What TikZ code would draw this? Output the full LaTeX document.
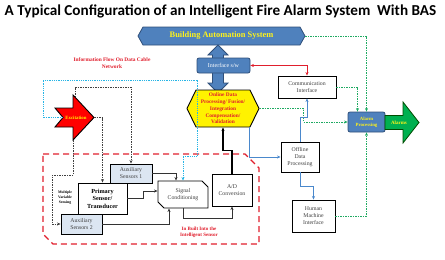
\documentclass[tikz,border=0pt]{standalone}
\usepackage{fontspec}
\setmainfont{Liberation Serif}
\newfontfamily\titlefont{Carlito}
\usetikzlibrary{shapes.symbols,shapes.misc,arrows.meta}

\definecolor{basblue}{HTML}{4F81BD}
\definecolor{basedge}{HTML}{2F4F7A}
\definecolor{auxfill}{HTML}{DCE6F2}
\definecolor{flowred}{HTML}{E01F2D}
\definecolor{linkgreen}{HTML}{1FAA62}
\definecolor{linkcyan}{HTML}{27B5E6}
\definecolor{linkblue}{HTML}{4A88CC}
\definecolor{alarmgreen}{HTML}{00B050}
\definecolor{boxtext}{HTML}{404040}

\begin{document}
\begin{tikzpicture}[x=1pt, y=-1pt, >={Stealth[length=3.5pt,width=3pt]},
    box/.style={draw=black, line width=0.9pt, fill=white, align=center, inner sep=0pt,
        text=boxtext, font=\fontsize{5.8}{7}\selectfont},
    auxbox/.style={box, fill=auxfill},
    bluebox/.style={draw=basedge, line width=0.8pt, fill=basblue, rounded corners=2pt,
        align=center, inner sep=0pt},
    redtext/.style={text=flowred, align=center, font=\bfseries\fontsize{5.4}{6.4}\selectfont},
    greenlink/.style={->, linkgreen, line width=0.6pt, dash pattern=on 1.5pt off 1pt},
    cyanlink/.style={->, linkcyan, line width=0.6pt, dash pattern=on 1pt off 0.8pt},
    bluelink/.style={->, linkblue, line width=0.8pt},
    blacklink/.style={->, black!80, line width=0.6pt},
    dashlink/.style={->, black!75, line width=0.6pt, dash pattern=on 1.5pt off 1pt}]

\useasboundingbox (0,0) rectangle (445,260);

% Title
\node[font=\titlefont\bfseries\fontsize{15.2}{16}\selectfont] (title) at (220.5,11)
    {A Typical Configuration of an Intelligent Fire Alarm System\ \ With BAS};

% Sensor zone
\draw[flowred, line width=1.4pt, dash pattern=on 6pt off 4pt]
    (43,154) -- (245,154) -- (259,168) -- (259,244) -- (53,244) -- (43,234) -- cycle;

% BAS and interface
\node[signal, signal to=west and east, signal pointer angle=122, draw=basedge, line width=0.8pt,
      fill=basblue, minimum width=167pt, minimum height=18pt, inner sep=0pt, text=yellow!90!white,
      font=\bfseries\fontsize{8.4}{9}\selectfont] (bas) at (221.5,36) {Building Automation System};

\draw[draw=basedge, line width=0.8pt, fill=basblue]
    (218,45) -- (228,55) -- (223.5,55) -- (223.5,83) -- (228,83) -- (218,93)
    -- (208,83) -- (212.5,83) -- (212.5,55) -- (208,55) -- cycle;

\node[bluebox, minimum width=53pt, minimum height=15pt, text=white,
      font=\fontsize{6}{7}\selectfont] (iface) at (223.5,65.5) {Interface s/w};

\node[signal, signal to=west and east, signal pointer angle=128, draw=black, line width=0.9pt,
      fill=yellow, minimum width=72pt, minimum height=37pt, inner sep=0pt, text=flowred,
      align=center, font=\bfseries\fontsize{5.4}{6.8}\selectfont] (dataproc) at (223,108.5)
    {Online Data\\Processing/ Fusion/\\Integration\\Compensation/\\Validation};

% Right side
\node[box, minimum width=58pt, minimum height=22pt] (comm) at (307,87) {Communication\\Interface};
\node[bluebox, minimum width=37pt, minimum height=20pt, text=yellow!90!white,
      font=\bfseries\fontsize{4.8}{6}\selectfont] (alarmproc) at (366.5,122) {Alarm\\Processing};
\draw[draw=black!70!green, line width=0.8pt, fill=alarmgreen]
    (385,115.5) -- (403,115.5) -- (403,102) -- (419,122.5) -- (403,143) -- (403,129.5) -- (385,129.5) -- cycle;
\node[text=yellow!90!white, font=\bfseries\fontsize{5}{6}\selectfont] (alarms) at (399,122.5) {Alarms};
\node[box, minimum width=38pt, minimum height=30pt] (offline) at (300,157) {Offline\\Data\\Processing};
\node[box, minimum width=43pt, minimum height=32pt] (hmi) at (313.5,216) {Human\\Machine\\Interface};

% Intelligent sensor
\node[box, minimum width=40pt, minimum height=32pt] (adconv) at (232,190) {A/D\\Conversion};
\node[box, chamfered rectangle, chamfered rectangle corners={north east, south west},
      chamfered rectangle xsep=3pt, chamfered rectangle ysep=3pt,
      minimum width=50pt, minimum height=27pt] (sigcond) at (183,194.5) {Signal\\Conditioning};
\node[auxbox, minimum width=42pt, minimum height=19pt] (aux1) at (131,173.5) {Auxiliary\\Sensors 1};
\node[box, minimum width=49pt, minimum height=31pt, text=black,
      font=\bfseries\fontsize{6.2}{7.4}\selectfont] (primary) at (102.5,198.5) {Primary\\Sensor/\\Transducer};
\node[auxbox, minimum width=41pt, minimum height=20pt] (aux2) at (81.5,224) {Auxiliary\\Sensors 2};

% Excitation
\draw[draw=black, line width=0.9pt, fill=red]
    (55,108) -- (73,108) -- (73,95) -- (94,117.5) -- (73,140) -- (73,127) -- (55,127) -- (63,117.5) -- cycle;
\node[text=yellow, font=\bfseries\fontsize{4.8}{5}\selectfont] (excit) at (76,117.5) {Excitation};
\coordinate (ex-top) at (75,97);
\coordinate (ex-tip) at (94,117.5);
\coordinate (ex-bot) at (73,140);
\coordinate (ex-notch) at (63,117.5);

% Labels
\node[redtext] (infoflow) at (112,63) {Information Flow On Data Cable\\Network};
\node[redtext, font=\bfseries\fontsize{5}{6}\selectfont] (inbuilt) at (199,232) {In Built Into the\\Intelligent Sensor};
\node[align=center, font=\bfseries\fontsize{3.8}{5}\selectfont] (multi) at (65,198) {Multiple\\Variable\\Sensing};

% Green links to alarm processing
\draw[greenlink] (bas.east) -| (alarmproc.north);
\draw[greenlink] (comm.east) -| ([xshift=-9pt]alarmproc.north);
\draw[greenlink] (dataproc.east) -- ++(44,0) |- (alarmproc.west);
\draw[greenlink] (hmi.east) -| (alarmproc.south);

% Red link
\draw[<->, flowred, line width=1pt] (iface.east) -| (comm.north);

% Blue links
\draw[bluelink] ([xshift=26pt]dataproc.south) |- (offline.west);
\draw[bluelink] (offline.north) -- ++(0,-24) -| (comm.south);
\draw[bluelink] (offline.south) -- ++(0,14) -| (hmi.north);

% A/D to processing
\draw[->, black, line width=1.2pt] (adconv.north) -- ++(0,-23) -| (dataproc.south);

% Sensors to signal conditioning
\draw[blacklink] (aux1.east) -| ([xshift=-7pt]sigcond.north);
\draw[blacklink] (primary.east) -- ++(16,0) |- ([yshift=3.5pt]sigcond.west);
\draw[blacklink] (aux2.east) -| ([xshift=-14pt]sigcond.south);
\draw[blacklink] (sigcond.south) -- ++(0,10) -| (adconv.south);

% Excitation links
\draw[dashlink] (ex-top) -- ++(0,-10) -| (aux1.north);
\draw[dashlink] (ex-tip) -- ++(8,0) -| (primary.north);
\draw[dashlink] (ex-bot) -- ++(0,35) -- ++(-21,0) |- (aux2.west);
\draw[cyanlink] (ex-notch) -- ++(-20,0) -- ++(0,-37.5) -- ++(154,0) -- ++(0,76) -| (sigcond.north);

\end{tikzpicture}
\end{document}
